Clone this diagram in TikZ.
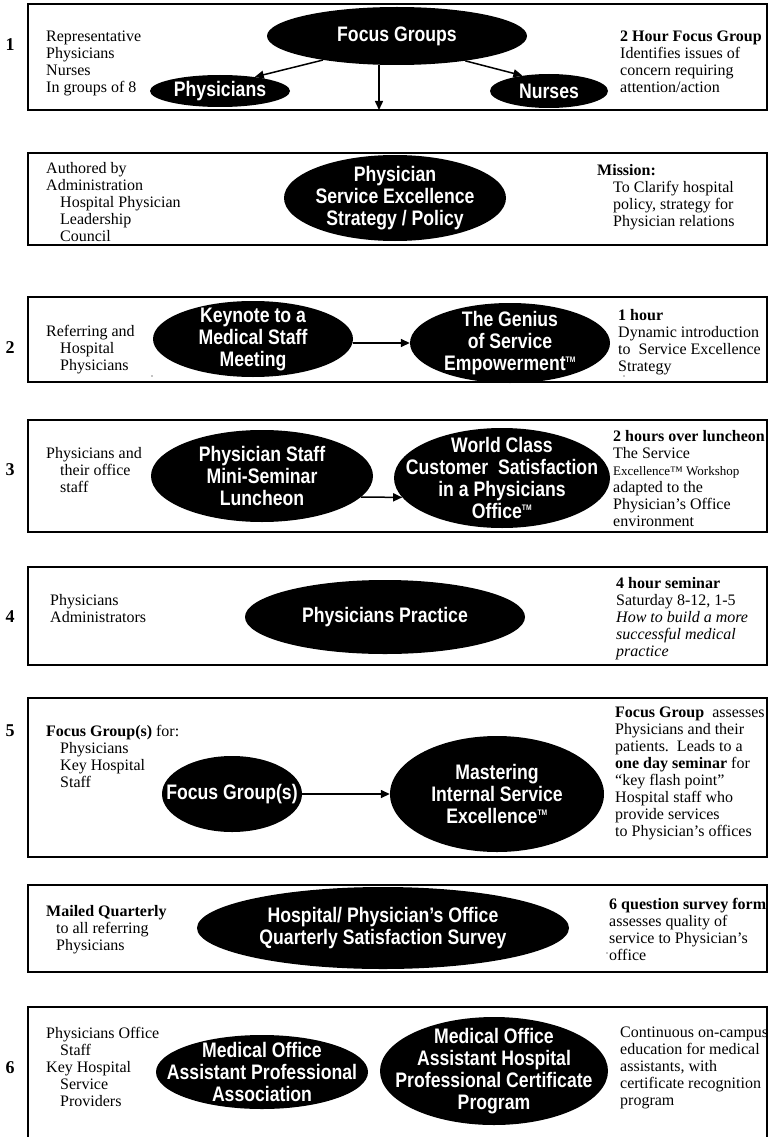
\documentclass[tikz,border=0pt]{standalone}
\usepackage{fontspec}
\setmainfont{Liberation Serif}
\newfontfamily\ellfont[FakeStretch=0.84]{Liberation Sans}
\usetikzlibrary{shapes.geometric,arrows.meta}
\begin{document}
\begin{tikzpicture}[x=1pt,y=-1pt,
  frame/.style={draw=black,line width=2pt},
  blob/.style={ellipse,fill=black,draw=none,inner sep=0pt},
  etext/.style={text=white,font=\ellfont\bfseries\fontsize{21}{22}\selectfont,align=center,inner sep=0pt},
  ltext/.style={anchor=north west,align=left,font=\fontsize{16}{17}\selectfont,inner sep=0pt},
  num/.style={font=\fontsize{18}{20}\selectfont\bfseries,inner sep=0pt},
  conn/.style={line width=1.5pt,-{Triangle[length=9pt,width=8pt]}},
  speck/.style={fill=black,circle,inner sep=0pt,minimum size=1.2pt},
]
\useasboundingbox (0,0) rectangle (769,1137);
\fill[white] (0,0) rectangle (769,1137);

% ---------- Box 1
\draw[frame] (28,4) rectangle (767,110);
\node[num] (n1) at (10,45) {1};
\node[ltext] (l1) at (46,31) {Representative\\Physicians\\Nurses\\In groups of 8};
\node[ltext] (r1) at (620,31) {\textbf{2 Hour Focus Group}\\Identifies issues of\\concern requiring\\attention/action};
\node[blob,minimum width=260pt,minimum height=58pt] (fg) at (397,36) {};
\node[etext] (fgt) at (fg) {Focus Groups};
\node[blob,minimum width=140pt,minimum height=32pt] (phys) at (220,91) {};
\node[etext] (physt) at (phys) {Physicians};
\node[blob,minimum width=118pt,minimum height=34pt] (nur) at (549,91) {};
\node[etext] (nurt) at (nur) {Nurses};
\coordinate (dn) at (379,110);
\draw[conn] (fg.198) -- (phys.22);
\draw[conn] (fg.-20) -- (nur.150);
\draw[conn] (fg.south -| dn) -- (dn);

% ---------- Box 2 (policy)
\draw[frame] (28,153) rectangle (767,245);
\node[ltext] (l2) at (46,162) {Authored by\\Administration\\\hspace*{14pt}Hospital Physician\\\hspace*{14pt}Leadership\\\hspace*{14pt}Council};
\node[ltext] (r2) at (597,164) {\textbf{Mission:}\\\hspace*{16pt}To Clarify hospital\\\hspace*{16pt}policy, strategy for\\\hspace*{16pt}Physician relations};
\node[blob,minimum width=222pt,minimum height=86pt] (pol) at (395,198) {};
\node[etext] (polt) at (pol) {Physician\\Service Excellence\\Strategy / Policy};

% ---------- Box 3 (2)
\draw[frame] (28,297) rectangle (767,382);
\node[num] (n2) at (10,348) {2};
\node[ltext] (l3) at (46,325) {Referring and\\\hspace*{14pt}Hospital\\\hspace*{14pt}Physicians};
\node[ltext] (r3) at (618,309) {\textbf{1 hour}\\Dynamic introduction\\to\ \ Service Excellence\\Strategy};
\node[blob,minimum width=200pt,minimum height=76pt] (kn) at (253,339) {};
\node[etext] (knt) at (kn) {Keynote to a\\Medical Staff\\Meeting};
\node[blob,minimum width=200pt,minimum height=80pt] (gen) at (510,343) {};
\node[etext] (gent) at (gen) {The Genius\\of Service\\Empowerment\textsuperscript{\fontsize{8}{8}\selectfont TM}};
\draw[conn] (kn.east |- gen.west) -- (gen.west);
\node[speck] (s1) at (152,376) {};
\node[speck] (s2) at (624,376) {};

% ---------- Box 4 (3)
\draw[frame] (28,420) rectangle (767,532);
\node[num] (n3) at (10,470) {3};
\node[ltext] (l4) at (46,447) {Physicians and\\\hspace*{14pt}their office\\\hspace*{14pt}staff};
\node[ltext] (r4) at (613,430) {\textbf{2 hours over luncheon}\\The Service\\{\fontsize{13}{17}\selectfont Excellence™ Workshop}\\adapted to the\\Physician’s Office\\environment};
\node[blob,minimum width=222pt,minimum height=92pt] (ps) at (262,476) {};
\node[etext] (pst) at (ps) {Physician Staff\\Mini-Seminar\\Luncheon};
\node[blob,minimum width=216pt,minimum height=100pt] (wc) at (502,478) {};
\node[etext] (wct) at (wc) {World Class\\Customer\ \ Satisfaction\\in a Physicians\\Office\textsuperscript{\fontsize{8}{8}\selectfont TM}};
\draw[conn] (ps.-12) -- (wc.191);

% ---------- Box 5 (4)
\draw[frame] (28,567) rectangle (767,665);
\node[num] (n4) at (10,617) {4};
\node[ltext] (l5) at (50,594) {Physicians\\Administrators};
\node[ltext] (r5) at (616,577) {\textbf{4 hour seminar}\\Saturday 8-12, 1-5\\\textit{How to build a more}\\\textit{successful medical}\\\textit{practice}};
\node[blob,minimum width=280pt,minimum height=74pt] (pp) at (385,617) {};
\node[etext] (ppt) at (pp) {Physicians Practice};

% ---------- Box 6 (5)
\draw[frame] (28,698) rectangle (767,857);
\node[num] (n5) at (10,731) {5};
\node[ltext] (l6) at (46,725) {\textbf{Focus Group(s)}\ for:\\\hspace*{14pt}Physicians\\\hspace*{14pt}Key Hospital\\\hspace*{14pt}Staff};
\node[ltext] (r6) at (615,707) {\textbf{Focus Group}\ \ assesses\\Physicians and their\\patients.\ \ Leads to a\\\textbf{one day seminar} for\\“key flash point”\\Hospital staff who\\provide services\\to Physician’s offices};
\node[blob,minimum width=140pt,minimum height=76pt] (fg2) at (232,794) {};
\node[etext] (fg2t) at (fg2) {Focus Group(s)};
\node[blob,minimum width=214pt,minimum height=116pt] (mast) at (497,794) {};
\node[etext] (mastt) at (mast) {Mastering\\Internal Service\\Excellence\textsuperscript{\fontsize{8}{8}\selectfont TM}};
\draw[conn] (fg2.east) -- (mast.west);

% ---------- Box 7 (survey)
\draw[frame] (28,885) rectangle (767,972);
\node[ltext] (l7) at (46,905) {\textbf{Mailed Quarterly}\\\hspace*{10pt}to all referring\\\hspace*{10pt}Physicians};
\node[ltext] (r7) at (609,898) {\textbf{6 question survey form}\\assesses quality of\\service to Physician’s\\office};
\node[blob,minimum width=372pt,minimum height=82pt] (sv) at (383,928) {};
\node[etext] (svt) at (sv) {Hospital/ Physician’s Office\\Quarterly Satisfaction Survey};
\node[speck] (s3) at (607,953) {};

% ---------- Box 8 (6)
\draw[frame] (767,1160) -- (767,1007) -- (28,1007) -- (28,1160);
\node[num] (n6) at (10,1068) {6};
\node[ltext] (l8) at (46,1027) {Physicians Office\\\hspace*{14pt}Staff\\Key Hospital\\\hspace*{14pt}Service\\\hspace*{14pt}Providers};
\node[ltext] (r8) at (620,1027) {Continuous on-campus\\education for medical\\assistants, with\\certificate recognition\\program};
\node[blob,minimum width=212pt,minimum height=74pt] (moa) at (262,1072) {};
\node[etext] (moat) at (moa) {Medical Office\\Assistant Professional\\Association};
\node[blob,minimum width=228pt,minimum height=108pt] (cert) at (494,1071) {};
\node[etext] (certt) at (cert) {Medical Office\\Assistant Hospital\\Professional Certificate\\Program};
\end{tikzpicture}
\end{document}
